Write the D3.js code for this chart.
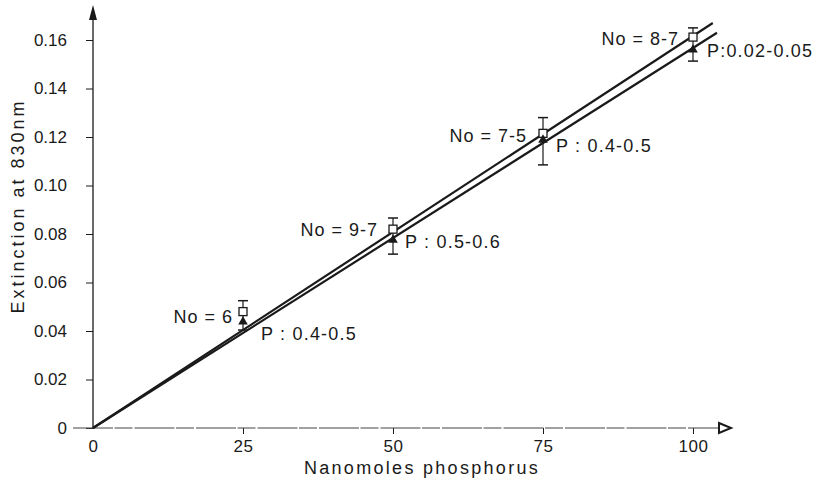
<!DOCTYPE html>
<html>
<head>
<meta charset="utf-8">
<script src="https://cdn.jsdelivr.net/npm/d3@7"></script>
<style>
body{margin:0;background:#fff;}
text{font-family:"Liberation Sans",Arial,sans-serif;fill:#1a1a1a;}
</style>
</head>
<body>
<div id="graph"></div>
<script>
// data
var phosphorus=[25,50,75,100];
var extNo=[0.048,0.082,0.1215,0.1612];
var extP=[0.0438,0.0775,0.1188,0.156];
var errHi=[0.0525,0.0866,0.128,0.165];
var errLo=[0.0404,0.0717,0.1085,0.1513];
var labelsNo=["No = 6","No = 9-7","No = 7-5","No = 8-7"];
var labelsP=["P : 0.4-0.5","P : 0.5-0.6","P : 0.4-0.5","P:0.02-0.05"];
var fitNo=[[0,0],[103.3,0.167]];
var fitP=[[0,0],[104,0.163]];
var xTicks=[0,25,50,75,100];
var yTicks=[0,0.02,0.04,0.06,0.08,0.10,0.12,0.14,0.16];

var width=816,height=486;
var ink='#1a1a1a';
var svg=d3.select('#graph').append('svg').attr('width',width).attr('height',height);

var x=d3.scaleLinear().domain([0,100]).range([93,693]);
var y=d3.scaleLinear().domain([0,0.16]).range([428,40]);

// axes
var xAxis=d3.axisBottom(x).tickValues(xTicks).tickSize(6).tickPadding(6).tickFormat(d3.format('d'));
var gx=svg.append('g').attr('transform','translate(0,'+y(0)+')').call(xAxis);
gx.select('.domain').remove();
gx.selectAll('line').attr('stroke',ink);
gx.selectAll('text').attr('font-size',17).attr('letter-spacing',0.5).attr('fill',ink);
gx.selectAll('.tick').filter(function(d){return d===0;}).select('line').remove();

var yAxis=d3.axisLeft(y).tickValues(yTicks).tickSize(7).tickPadding(19)
	.tickFormat(function(d){return d===0?'0':d3.format('.2f')(d);});
var gy=svg.append('g').attr('transform','translate('+x(0)+',0)').call(yAxis);
gy.select('.domain').remove();
gy.selectAll('line').attr('stroke',ink);
gy.selectAll('text').attr('font-size',17).attr('fill',ink);

// axis lines with arrows
svg.append('line').attr('x1',x(0)-20).attr('x2',720).attr('y1',y(0)).attr('y2',y(0))
	.attr('stroke','#444').attr('stroke-width',1.1).attr('stroke-dasharray','40,1.5,18,2');
svg.append('path').attr('d','M719,'+(y(0)-5)+'L731,'+y(0)+'L719,'+(y(0)+5)+'Z')
	.attr('fill','#fff').attr('stroke',ink).attr('stroke-width',2);
svg.append('line').attr('x1',x(0)).attr('x2',x(0)).attr('y1',y(0)).attr('y2',18)
	.attr('stroke',ink).attr('stroke-width',1.3);
svg.append('path').attr('d','M'+(x(0)-4)+',20L'+x(0)+',5L'+(x(0)+4)+',20Z').attr('fill',ink);

// axis titles
svg.append('text').attr('x',422).attr('y',474).attr('text-anchor','middle')
	.attr('font-size',18).attr('letter-spacing',2.3).text('Nanomoles phosphorus');
svg.append('text').attr('transform','translate(24,206) rotate(-90)').attr('text-anchor','middle')
	.attr('font-size',18).attr('letter-spacing',3).text('Extinction at 830nm');

// regression lines
var line=d3.line().x(function(d){return x(d[0]);}).y(function(d){return y(d[1]);});
[fitNo,fitP].forEach(function(f){
	svg.append('path').attr('d',line(f)).attr('fill','none').attr('stroke',ink).attr('stroke-width',2.2);
});

// error bars
var pts=phosphorus.map(function(p,i){
	return {p:p,no:extNo[i],tp:extP[i],hi:errHi[i],lo:errLo[i],ln:labelsNo[i],lp:labelsP[i]};
});
var eb=svg.append('g').selectAll('g').data(pts).enter().append('g');
eb.append('line').attr('x1',function(d){return x(d.p);}).attr('x2',function(d){return x(d.p);})
	.attr('y1',function(d){return y(d.hi);}).attr('y2',function(d){return y(d.lo);})
	.attr('stroke',ink).attr('stroke-width',1.2);
['hi','lo'].forEach(function(k){
	eb.append('line').attr('x1',function(d){return x(d.p)-5;}).attr('x2',function(d){return x(d.p)+5;})
		.attr('y1',function(d){return y(d[k]);}).attr('y2',function(d){return y(d[k]);})
		.attr('stroke',ink).attr('stroke-width',1.5);
});

// markers: open squares (No) and filled triangles (P)
svg.append('g').selectAll('rect').data(pts).enter().append('rect')
	.attr('x',function(d){return x(d.p)-4;}).attr('y',function(d){return y(d.no)-4;})
	.attr('width',8).attr('height',8).attr('fill','#fff').attr('stroke',ink).attr('stroke-width',1.3);
svg.append('g').selectAll('path').data(pts).enter().append('path')
	.attr('d',d3.symbol().type(d3.symbolTriangle).size(40))
	.attr('transform',function(d){return 'translate('+x(d.p)+','+y(d.tp)+')';})
	.attr('fill',ink);

// annotations
var noDx=[-10,-15,-16,-14],noDy=[5,1,2,2];
var pDx=[18,12,13,14],pDy=[12,2,6,1];
svg.append('g').selectAll('text').data(pts).enter().append('text')
	.attr('x',function(d,i){return x(d.p)+noDx[i];}).attr('y',function(d,i){return y(d.no)+noDy[i];})
	.attr('dy','0.35em').attr('text-anchor','end').attr('font-size',18).attr('letter-spacing',1)
	.text(function(d){return d.ln;});
svg.append('g').selectAll('text').data(pts).enter().append('text')
	.attr('x',function(d,i){return x(d.p)+pDx[i];}).attr('y',function(d,i){return y(d.tp)+pDy[i];})
	.attr('dy','0.35em').attr('text-anchor','start').attr('font-size',18).attr('letter-spacing',1.2)
	.text(function(d){return d.lp;});
</script>
</body>
</html>
